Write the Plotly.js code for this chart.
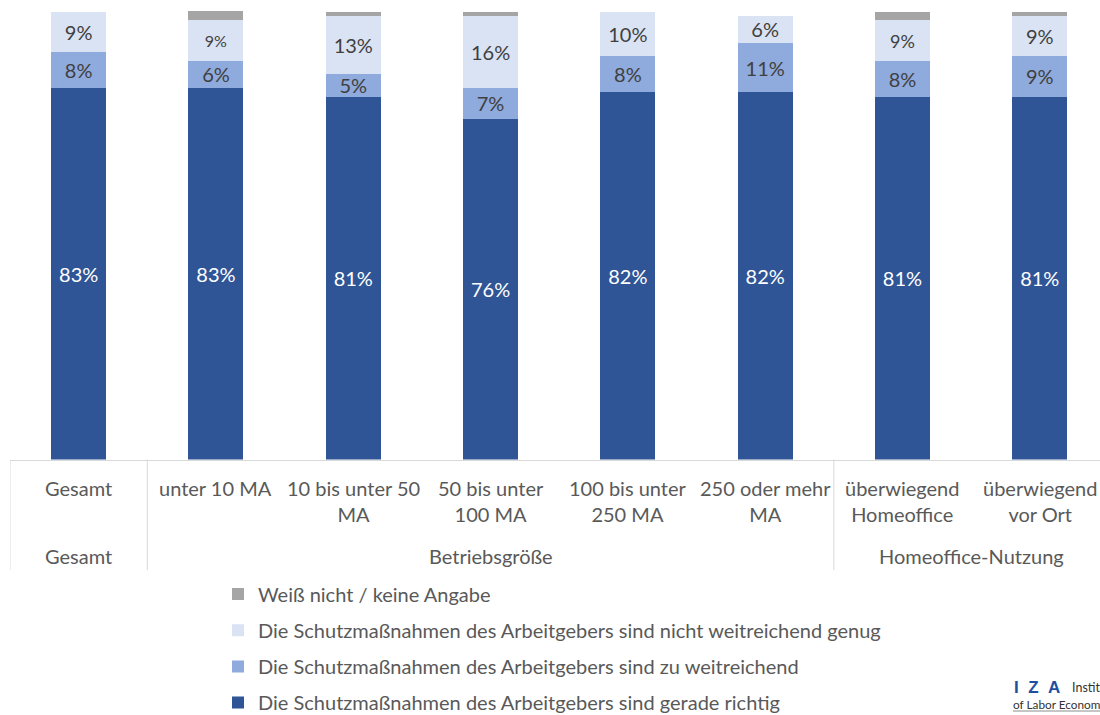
<!DOCTYPE html>
<html>
<head>
<meta charset="utf-8">
<script src="https://cdn.plot.ly/plotly-3.0.1.min.js"></script>
<style>html,body{margin:0;padding:0;background:#fff;overflow:hidden;}#chart{width:1100px;height:740px;}</style>
</head>
<body>
<div id="chart"></div>
<script>
// ---- data ----
var categories = ['Gesamt', 'unter 10 MA', '10 bis unter 50 MA', '50 bis unter 100 MA',
                  '100 bis unter 250 MA', '250 oder mehr MA', 'überwiegend Homeoffice', 'überwiegend vor Ort'];
var tickLabels = ['Gesamt', 'unter 10 MA', '10 bis unter 50<br>MA', '50 bis unter<br>100 MA',
                  '100 bis unter<br>250 MA', '250 oder mehr<br>MA', 'überwiegend<br>Homeoffice', 'überwiegend<br>vor Ort'];
var groupLabels = ['Gesamt', 'Betriebsgröße', 'Homeoffice-Nutzung'];
var groupStart = [0, 1, 6];
var groupEnd = [0, 5, 7];

var seriesNames = [
  'Die Schutzmaßnahmen des Arbeitgebers sind gerade richtig',
  'Die Schutzmaßnahmen des Arbeitgebers sind zu weitreichend',
  'Die Schutzmaßnahmen des Arbeitgebers sind nicht weitreichend genug',
  'Weiß nicht / keine Angabe'
];
var geradeRichtig = [83, 83, 81, 76, 82, 82, 81, 81];
var zuWeitreichend = [8, 6, 5, 7, 8, 11, 8, 9];
var nichtGenug = [9, 9, 13, 16, 10, 6, 9, 9];
var weissNicht = [0, 2.2, 1, 1, 0, 0, 2, 1];

var logoLetters = 'I&nbsp;&nbsp;Z&nbsp;&nbsp;A';
var logoLine1 = 'Instit';
var logoLine2 = 'of Labor Econom';

// ---- styling ----
var colors = ['#2F5597', '#8FAADC', '#DAE3F3', '#A5A5A5'];
var FONT = 'Lato, Carlito, Calibri, sans-serif';
var GREY = '#595959';
var W = 1100, H = 740;   // drawing is a bit taller than the 715px view so the legend never pushes the plot
var plotBottomPx = 459.5;
var pxPerCat = 137.3;
function py(px){ return (H - px) / H; }        // paper y from page px
function pxX(px){ return (px - 10) / (W - 10); } // paper x from page px

function pct(arr){ return arr.map(function(v){ return Math.round(v) + '%'; }); }

function barTrace(i, vals, showText, textColor, sizes){
  return {
    type: 'bar', x: categories, y: vals, name: seriesNames[i],
    legendgroup: 'g' + i,
    legendrank: 10 - i,
    marker: {color: colors[i], line: {width: 0}},
    width: 0.4,
    text: showText ? pct(vals) : null,
    textposition: showText ? 'inside' : 'none',
    insidetextanchor: 'middle',
    textangle: 0,
    constraintext: 'none',
    textfont: {family: FONT, size: sizes || 20, color: textColor},
    hoverinfo: 'name+y'
  };
}

var traces = [
  barTrace(0, geradeRichtig, true, '#FFFFFF'),
  barTrace(1, zuWeitreichend, true, '#404040'),
  barTrace(2, nichtGenug, true, '#404040', [20, 16, 20, 20, 20, 20, 18, 20]),
  barTrace(3, weissNicht, false, '#404040')
];

var annotations = [];
tickLabels.forEach(function(t, i){
  annotations.push({x: i, xref: 'x', y: py(474), yref: 'paper', yanchor: 'top', xanchor: 'center',
    text: t, showarrow: false, align: 'center', font: {family: FONT, size: 20, color: GREY}});
});
groupLabels.forEach(function(g, i){
  annotations.push({x: (groupStart[i] + groupEnd[i]) / 2, xref: 'x', y: py(542), yref: 'paper',
    yanchor: 'top', xanchor: 'center', text: g, showarrow: false,
    font: {family: FONT, size: 20, color: GREY}});
});
// IZA logo
annotations.push(
  {x: pxX(1012), xref: 'paper', y: py(676), yref: 'paper', xanchor: 'left', yanchor: 'top',
   text: '<b>' + logoLetters + '</b>', showarrow: false,
   font: {family: 'Liberation Sans, Arial, sans-serif', size: 17, color: '#1F4FA0'}},
  {x: pxX(1070), xref: 'paper', y: py(678), yref: 'paper', xanchor: 'left', yanchor: 'top',
   text: logoLine1, showarrow: false,
   font: {family: FONT, size: 12.5, color: '#333333'}},
  {x: pxX(1011), xref: 'paper', y: py(695), yref: 'paper', xanchor: 'left', yanchor: 'top',
   text: logoLine2, showarrow: false,
   font: {family: FONT, size: 11.8, color: '#333333'}}
);

var shapes = [];
var dividers = [-0.5, 0.5, 5.5];
dividers.forEach(function(d){
  shapes.push({type: 'line', xref: 'x', yref: 'paper', x0: d, x1: d, y0: py(plotBottomPx), y1: py(570),
    line: {color: '#D9D9D9', width: 1}});
});
shapes.push({type: 'line', xref: 'paper', yref: 'paper', x0: pxX(1013), x1: pxX(1100),
  y0: py(711), y1: py(711), line: {color: '#8C8C8C', width: 1}});

var layout = {
  width: W, height: H,
  margin: {l: 10, r: 0, t: 0, b: 0, pad: 0},
  paper_bgcolor: '#FFFFFF', plot_bgcolor: 'rgba(0,0,0,0)',
  barmode: 'stack',
  showlegend: true,
  legend: {
    x: pxX(218), xanchor: 'left', y: py(574.5), yanchor: 'top',
    traceorder: 'grouped', tracegroupgap: 7.2,
    font: {family: FONT, size: 20, color: GREY},
    bgcolor: 'rgba(0,0,0,0)'
  },
  xaxis: {
    type: 'category', range: [-0.5, -0.5 + (W - 10) / pxPerCat],
    showticklabels: false, ticks: '', showgrid: false, zeroline: false,
    showline: true, linecolor: '#D9D9D9', linewidth: 1, fixedrange: true
  },
  yaxis: {
    domain: [py(plotBottomPx), 1],
    range: [0, 100 * plotBottomPx / 448], showticklabels: false, showgrid: false,
    zeroline: false, showline: false, ticks: '', fixedrange: true
  },
  annotations: annotations,
  shapes: shapes,
  font: {family: FONT, color: GREY}
};

Plotly.newPlot('chart', traces, layout, {displayModeBar: false, staticPlot: true});
</script>
</body>
</html>
